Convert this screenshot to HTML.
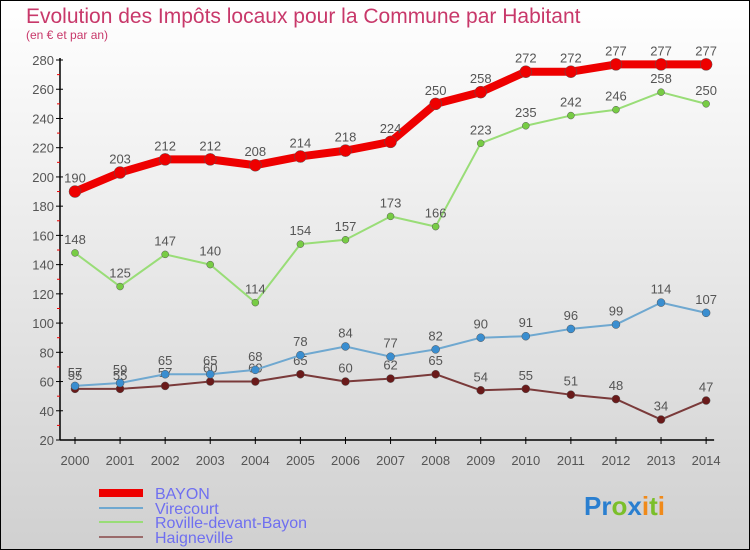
<!DOCTYPE html>
<html><head><meta charset="utf-8"><style>
body{margin:0}
svg{display:block;font-family:"Liberation Sans",sans-serif}
</style></head><body>
<svg id="c" width="750" height="550" xmlns="http://www.w3.org/2000/svg">
<defs><linearGradient id="bg" x1="0" y1="0" x2="0" y2="1"><stop offset="0" stop-color="#ffffff"/><stop offset="1" stop-color="#d0d0d0"/></linearGradient></defs>
<rect x="0.5" y="0.5" width="749" height="549" fill="url(#bg)" stroke="#000"/>
<text x="26" y="23" font-size="21" fill="#c8386a">Evolution des Impôts locaux pour la Commune par Habitant</text>
<text x="26" y="39" font-size="12" fill="#c8386a">(en € et par an)</text>
<g id="axes"></g><g id="series"></g>
<g font-size="16" fill="#6f6ff0">
<line x1="99" y1="493" x2="143" y2="493" stroke="#ee0000" stroke-width="8"/>
<text x="155" y="499">BAYON</text>
<line x1="99" y1="508" x2="143" y2="508" stroke="#6fa8d0" stroke-width="2"/>
<text x="155" y="514">Virecourt</text>
<line x1="99" y1="522" x2="143" y2="522" stroke="#99dd77" stroke-width="2"/>
<text x="155" y="528">Roville-devant-Bayon</text>
<line x1="99" y1="537" x2="143" y2="537" stroke="#9a6a6a" stroke-width="2"/>
<text x="155" y="543">Haigneville</text>
</g>
<text x="584" y="515" font-size="26" font-weight="bold"><tspan fill="#2a7fd0">P</tspan><tspan fill="#2a7fd0">r</tspan><tspan fill="#7bbf2a">o</tspan><tspan fill="#2a7fd0">x</tspan><tspan fill="#f08a1a">i</tspan><tspan fill="#7bbf2a">t</tspan><tspan fill="#f08a1a">i</tspan></text>
</svg>
<script>
const years=[2000,2001,2002,2003,2004,2005,2006,2007,2008,2009,2010,2011,2012,2013,2014];
const bayon=[190,203,212,212,208,214,218,224,250,258,272,272,277,277,277];
const virecourt=[57,59,65,65,68,78,84,77,82,90,91,96,99,114,107];
const roville=[148,125,147,140,114,154,157,173,166,223,235,242,246,258,250];
const haigneville=[55,55,57,60,60,65,60,62,65,54,55,51,48,34,47];
const yTicks=[20,40,60,80,100,120,140,160,180,200,220,240,260,280];
const NS="http://www.w3.org/2000/svg";
const xs=i=>75+i*45.08;
const ys=v=>440-(v-20)*1.4615;
function mk(tag,attrs,parent){const e=document.createElementNS(NS,tag);for(const k in attrs)e.setAttribute(k,attrs[k]);parent.appendChild(e);return e;}
const ax=document.getElementById('axes');
let l=mk('line',{x1:60,y1:ys(280)-2,x2:60,y2:440,stroke:'#000','stroke-width':1.5},ax);


l=mk('line',{x1:60,y1:440,x2:xs(14)+8,y2:440,stroke:'#000','stroke-width':1.5},ax);


yTicks.forEach(v=>{
  const y=ys(v);
  mk('line',{x1:56,y1:y,x2:63,y2:y,stroke:'#000'},ax);
  if(v<280){const m=mk('line',{x1:57,y1:y-14.6,x2:60,y2:y-14.6,stroke:'#e00'},ax);}
  const t=mk('text',{x:54,y:y+5,'text-anchor':'end','font-size':13,fill:'#555'},ax);
  t.textContent=v;
  
  
});
years.forEach((yr,i)=>{
  const x=xs(i);
  mk('line',{x1:x,y1:437,x2:x,y2:444,stroke:'#000'},ax);
  const t=mk('text',{x:x,y:465,'text-anchor':'middle','font-size':13,fill:'#555'},ax);
  t.textContent=yr;
  
  
});
const sg=document.getElementById('series');
function draw(vals,name,color,dot,w,r){
  const g=mk('g',{},sg);
  
  
  const p=mk('polyline',{points:vals.map((v,i)=>xs(i)+','+ys(v)).join(' '),fill:'none',stroke:color,'stroke-width':w,'stroke-linejoin':'round'},g);
  
  
  vals.forEach((v,i)=>{
    const c=mk('circle',{cx:xs(i),cy:ys(v),r:r,fill:dot,stroke:'#555','stroke-width':0.5},g);
    
    
    const t=mk('text',{x:xs(i),y:ys(v)-9,'text-anchor':'middle','font-size':13,fill:'#555'},g);
    t.textContent=v;
    
    
  });
}
draw(haigneville,'haigneville','#7a3a3a','#6a1a1a',2,4);
draw(virecourt,'virecourt','#6fa8d0','#3a8ed0',2,4);
draw(roville,'roville','#99dd77','#77cc44',2,3.5);
draw(bayon,'bayon','#ee0000','#ee0000',8,6);
</script>
</body></html>
